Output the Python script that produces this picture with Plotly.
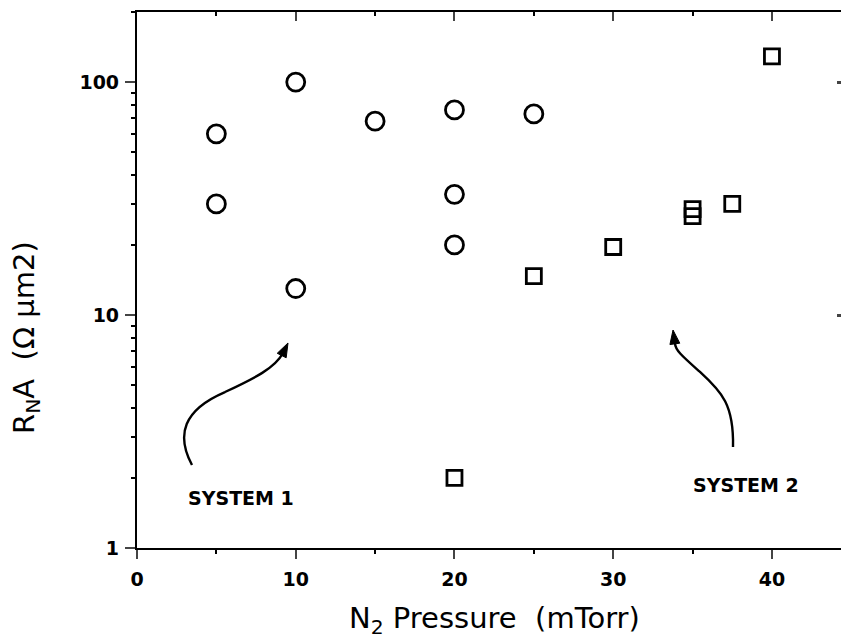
import numpy as np
import plotly.graph_objects as go

# N2 pressure (mTorr) vs RnA (Ohm um^2)
sys1_p = [5, 5, 10, 10, 15, 20, 20, 20, 25]
sys1_ra = [60, 30, 100, 13, 68, 76, 33, 20, 73]
sys2_p = [20, 25, 30, 35, 35, 37.5, 40]
sys2_ra = [2, 14.7, 19.6, 28.5, 26.6, 30, 129]

x_ticks = [0, 10, 20, 30, 40]
x_minor = [5, 15, 25, 35]
y_ticks = [1, 10, 100]
y_minor = [m * d for d in (1, 10, 100) for m in range(2, 10)]

W, H = 841, 642
L, R, T, B = 137, 0, 12, 94
x_range = [0, 44.35]
y_range = [0, np.log10(200)]

FONT = "DejaVu Sans"


def paper(px, py):
    # pixel position in the page -> paper coords
    return (px - L) / (W - L - R), (H - B - py) / (H - T - B)


def curve(points):
    pts = [paper(*p) for p in points]
    d = "M %.4f %.4f" % pts[0]
    for i in range(1, len(pts), 3):
        d += " C " + ", ".join("%.4f %.4f" % q for q in pts[i:i + 3])
    return d


def head(tip, back, length=14, half=5):
    tx, ty = tip
    dx, dy = tx - back[0], ty - back[1]
    n = np.hypot(dx, dy)
    dx, dy = dx / n, dy / n
    bx, by = tx - dx * length, ty - dy * length
    p1 = (bx - dy * half, by + dx * half)
    p2 = (bx + dy * half, by - dx * half)
    a, b, c = [paper(*p) for p in (tip, p1, p2)]
    return "M %.4f %.4f L %.4f %.4f L %.4f %.4f Z" % (*a, *b, *c)


fig = go.Figure()
fig.add_trace(go.Scatter(
    x=sys1_p, y=sys1_ra, mode="markers", name="System 1",
    marker=dict(symbol="circle-open", size=18, color="black",
                line=dict(width=2.8, color="black"))))
fig.add_trace(go.Scatter(
    x=sys2_p, y=sys2_ra, mode="markers", name="System 2",
    marker=dict(symbol="square-open", size=15, color="black",
                line=dict(width=2.8, color="black"))))
# dummy trace so the mirrored top/right axes get drawn
fig.add_trace(go.Scatter(x=[None], y=[None], xaxis="x2", yaxis="y2",
                         showlegend=False, hoverinfo="skip"))

arrows = [
    ([(192, 465), (176, 435), (183, 410), (225, 392),
      (255, 378), (275, 368), (283, 353)], (288, 343), (282, 355)),
    ([(733, 447), (734, 405), (722, 392), (700, 372),
      (682, 356), (675, 350), (675, 343)], (673, 330), (675, 345)),
]
shapes = []
for pts, tip, back in arrows:
    shapes.append(dict(type="path", xref="paper", yref="paper", path=curve(pts),
                       line=dict(color="black", width=2.4)))
    shapes.append(dict(type="path", xref="paper", yref="paper", path=head(tip, back),
                       fillcolor="black", line=dict(color="black", width=1)))

annotations = []
for txt, (px, py) in [("SYSTEM 1", (241, 498)), ("SYSTEM 2", (746, 485))]:
    x, y = paper(px, py)
    annotations.append(dict(text="<b>" + txt + "</b>", x=x, y=y, xref="paper", yref="paper",
                            showarrow=False, xanchor="center", yanchor="middle",
                            font=dict(family=FONT, size=19, color="black")))
x, y = paper(494, 620)
annotations.append(dict(text="N<sub>2</sub> Pressure\u00a0\u00a0(mTorr)", x=x, y=y,
                        xref="paper", yref="paper", showarrow=False,
                        xanchor="center", yanchor="middle",
                        font=dict(family=FONT, size=29, color="black")))
x, y = paper(26, 337)
annotations.append(dict(text="R<sub>N</sub>A\u00a0\u00a0(\u03a9 \u00b5m2)", x=x, y=y,
                        xref="paper", yref="paper", showarrow=False, textangle=-90,
                        xanchor="center", yanchor="middle",
                        font=dict(family=FONT, size=29, color="black")))

tickfont = dict(family=FONT, size=19, color="black", weight="bold")
fig.update_layout(
    width=W, height=H,
    margin=dict(l=L, r=R, t=T, b=B, autoexpand=False),
    paper_bgcolor="white", plot_bgcolor="white",
    showlegend=False,
    font=dict(family=FONT, color="black"),
    xaxis=dict(range=x_range, tickvals=x_ticks, ticks="outside", ticklen=9, tickwidth=2,
               showline=True, linewidth=2.2, linecolor="black", showgrid=False, zeroline=False,
               tickfont=tickfont, ticklabelstandoff=4, automargin=False,
               minor=dict(tickvals=x_minor, ticks="outside", ticklen=4, tickwidth=2,
                          tickcolor="black", showgrid=False)),
    yaxis=dict(type="log", range=y_range, tickvals=y_ticks, ticktext=["1", "10", "100"],
               ticks="outside", ticklen=10, tickwidth=2, automargin=False,
               showline=True, linewidth=2.2, linecolor="black", showgrid=False, zeroline=False,
               tickfont=tickfont, ticklabelstandoff=2,
               minor=dict(tickvals=y_minor, ticks="outside", ticklen=4, tickwidth=2,
                          tickcolor="black", showgrid=False)),
    xaxis2=dict(range=x_range, overlaying="x", side="top", anchor="y2", automargin=False,
                tickvals=x_ticks, ticks="inside", ticklen=9, tickwidth=2,
                showticklabels=False, showline=True, linewidth=2.4, linecolor="black",
                showgrid=False, zeroline=False,
                minor=dict(tickvals=x_minor, ticks="inside", ticklen=4, tickwidth=2,
                           tickcolor="black", showgrid=False)),
    yaxis2=dict(type="log", range=y_range, overlaying="y", side="right", anchor="x2",
                tickvals=[10, 100], ticks="inside", ticklen=4, tickwidth=3, automargin=False,
                showticklabels=False, showline=False, showgrid=False, zeroline=False),
    shapes=shapes,
    annotations=annotations,
)

# drop the default page margin so the figure sits at the window's top-left corner
fig.write_html("out.html", config={"displayModeBar": False},
               post_script="document.body.style.margin='0';document.body.style.overflow='hidden';")
